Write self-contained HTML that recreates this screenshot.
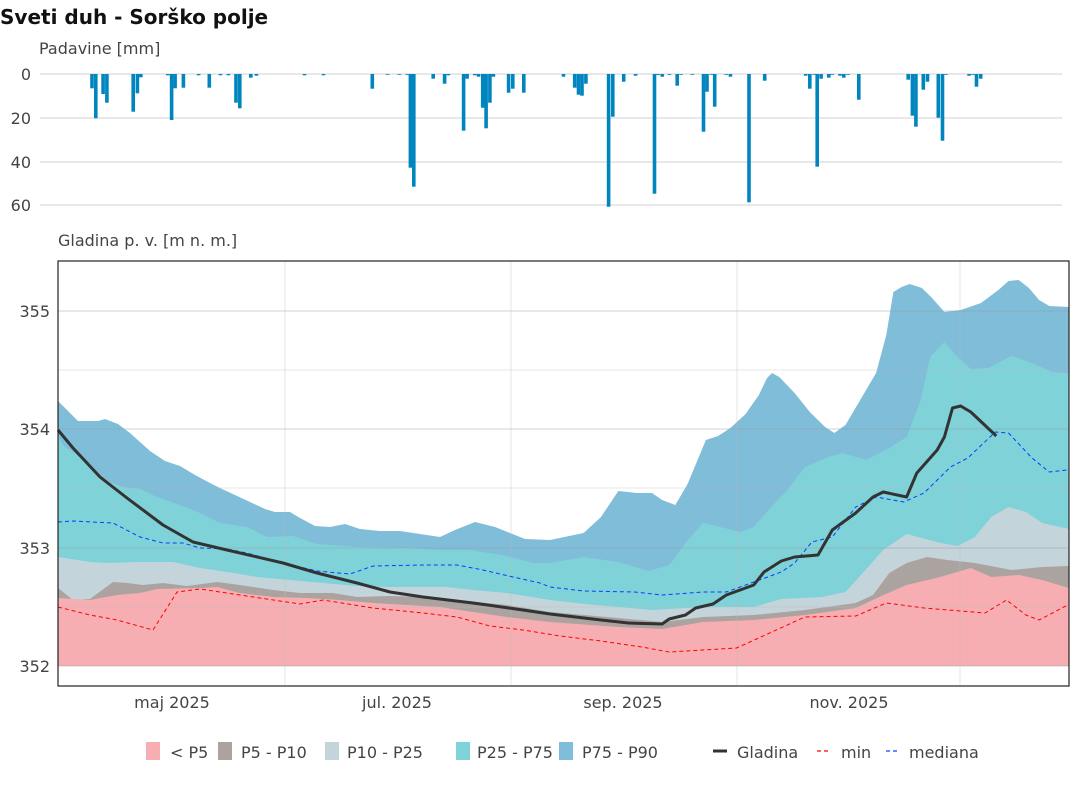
<!DOCTYPE html>
<html><head><meta charset="utf-8"><style>
body{margin:0;background:#fff;}
svg{display:block;font-family:"DejaVu Sans","Liberation Sans",sans-serif;}
</style></head><body>
<svg id="s" width="1086" height="803" viewBox="0 0 1086 803" xmlns="http://www.w3.org/2000/svg">
<text x="0" y="24" font-size="20" font-weight="bold" fill="#111">Sveti duh - Sorško polje</text>
<text x="39" y="54" font-size="16" fill="#444">Padavine [mm]</text>
<g stroke="#d0d0d0" stroke-width="1">
<line x1="40" x2="1062" y1="74" y2="74"/><line x1="40" x2="1062" y1="118" y2="118"/>
<line x1="40" x2="1062" y1="162" y2="162"/><line x1="40" x2="1062" y1="205" y2="205"/>
</g>
<g font-size="16" fill="#444" text-anchor="end">
<text x="31" y="80">0</text><text x="31" y="124">20</text><text x="31" y="168">40</text><text x="31" y="211">60</text>
</g>
<g id="bars" fill="#0085be"></g>
<text x="58" y="246" font-size="16" fill="#444">Gladina p. v. [m n. m.]</text>
<g id="main"></g>
<g font-size="16" fill="#444" text-anchor="end">
<text x="50" y="317">355</text><text x="50" y="435">354</text><text x="50" y="554">353</text><text x="50" y="672">352</text>
</g>
<g font-size="16" fill="#444" text-anchor="middle">
<text x="172" y="708">maj 2025</text><text x="397" y="708">jul. 2025</text><text x="623" y="708">sep. 2025</text><text x="849" y="708">nov. 2025</text>
</g>
<g font-size="16" fill="#444">
<rect x="146" y="742" width="14" height="18" fill="#f7aeb2"/><text x="170" y="758">&lt; P5</text>
<rect x="218" y="742" width="14" height="18" fill="#aba3a0"/><text x="241" y="758">P5 - P10</text>
<rect x="325" y="742" width="14" height="18" fill="#c4d4db"/><text x="347" y="758">P10 - P25</text>
<rect x="456" y="742" width="14" height="18" fill="#7fd3d8"/><text x="477" y="758">P25 - P75</text>
<rect x="559" y="742" width="14" height="18" fill="#7fbdd9"/><text x="582" y="758">P75 - P90</text>
<line x1="713" x2="727" y1="751" y2="751" stroke="#333" stroke-width="3"/><text x="737" y="758">Gladina</text>
<line x1="817" x2="831" y1="751" y2="751" stroke="#f00" stroke-width="1.2" stroke-dasharray="4,3"/><text x="841" y="758">min</text>
<line x1="886" x2="900" y1="751" y2="751" stroke="#0040ff" stroke-width="1.2" stroke-dasharray="4,3"/><text x="909" y="758">mediana</text>
</g>
</svg>
<script>
var NS="http://www.w3.org/2000/svg";
function el(p,t,a){var e=document.createElementNS(NS,t);for(var k in a)e.setAttribute(k,a[k]);p.appendChild(e);return e;}
var b1=[[266,265],[277,355],[298,282],[309,308],[385,335],[397,280],[407,232],[485,226],[496,360],[506,265],[530,263],[574,226],[605,263],[637,226],[660,226],[682,308],[693,325],[725,233],[741,227],[880,226],[935,226],[1076,266],[1120,224],[1154,224],[1177,224],[1186,503],[1196,560],[1252,236],[1285,251],[1296,226],[1340,392],[1350,236],[1372,226],[1383,230],[1395,323],[1405,385],[1416,308],[1426,230],[1470,278],[1482,266],[1514,278]];
var b2=[[67,230],[99,263],[110,284],[120,287],[131,251],[196,620],[208,350],[239,245],[273,227],[327,581],[337,225],[349,230],[370,224],[392,257],[403,224],[435,224],[467,395],[477,275],[489,224],[499,320],[532,224],[544,230],[597,607],[642,242],[759,227],[771,266],[783,224],[792,500],[803,236],[825,233],[835,224],[857,227],[868,233],[880,224],[911,299],[1052,239],[1064,347],[1074,380],[1095,269],[1107,245],[1138,353],[1150,422],[1160,224],[1226,227],[1237,224],[1247,260],[1259,236]];
var bars=document.getElementById("bars");
function addBars(list,off,s){list.forEach(function(b){var x=off+b[0]*s;var h=b[1]/3-74;if(h<0.8)h=0.8;el(bars,"rect",{x:(x-1.8).toFixed(1),y:74,width:3.6,height:h.toFixed(1)});});}
addBars(b1,0,0.346);addBars(b2,540,0.35);

function fx(x){return x>550?x+(x-550)*0.019:x;}
function pts(a){return a.map(function(p){return [Math.min(1069,Math.max(58,fx(p[0]))),p[1]];});}
var P90=[[58,401],[78,421],[98,421],[105,419],[118,424],[130,433],[140,442],[150,451],[165,461],[180,466],[195,475],[210,483],[222,489],[235,495],[250,502],[265,509],[275,512],[290,512],[300,518],[315,526],[330,527],[345,524],[360,529],[380,531],[400,531],[420,534],[440,537],[455,530],[475,522],[495,527],[510,533],[525,539],[550,540],[583,533],[600,517],[617,491],[635,493],[650,493],[660,500],[673,505],[685,484],[703,440],[715,436],[727,428],[742,414],[755,395],[763,378],[768,373],[775,377],[790,393],[805,412],[820,427],[829,433],[840,425],[855,399],[870,373],[880,335],[887,292],[895,287],[903,284],[915,288],[925,298],[937,312],[953,310],[973,303],[990,290],[1000,281],[1010,280],[1020,288],[1030,300],[1040,306],[1062,307]];
var P75=[[57,437],[65,447],[80,457],[103,480],[123,487],[140,489],[157,497],[180,505],[200,513],[220,523],[247,527],[267,537],[293,536],[317,544],[357,547],[407,548],[440,550],[470,550],[507,556],[533,563],[550,563],[583,557],[617,562],[647,571],[667,565],[683,543],[700,523],[717,527],[737,532],[750,527],[767,507],[783,490],[800,467],[823,457],[837,453],[860,460],[883,448],[900,437],[913,403],[923,357],[937,342],[950,357],[963,369],[980,368],[1003,356],[1023,363],[1043,372],[1062,373]];
var P25=[[57,557],[90,562],[107,563],[140,562],[173,562],[200,568],[227,572],[257,577],[290,580],[323,583],[357,586],[390,587],[423,587],[447,587],[473,590],[507,593],[550,600],[583,604],[617,607],[650,610],[683,608],[717,607],[750,607],[777,599],[817,597],[840,592],[857,573],[877,550],[900,534],[933,543],[950,546],[967,537],[983,517],[1000,507],[1017,512],[1033,523],[1062,529]];
var P10=[[57,588],[73,600],[90,599],[113,582],[127,583],[143,585],[163,583],[187,586],[217,582],[240,585],[273,590],[300,593],[333,593],[357,597],[390,596],[423,597],[457,600],[507,605],[550,612],[617,618],[660,622],[700,617],[750,615],[800,610],[850,603],[867,595],[883,573],[900,563],[920,557],[940,560],[967,563],[1003,570],[1033,567],[1062,566]];
var P5=[[57,598],[90,600],[117,595],[140,593],[157,589],[200,588],[217,587],[240,593],[273,597],[307,598],[340,600],[373,603],[407,605],[440,607],[473,612],[507,617],[550,622],[617,627],[660,629],[700,622],[750,620],[800,615],[850,608],[873,597],[900,585],[933,577],[963,568],[983,577],[1010,575],[1033,580],[1062,588]];
var GL=[[57,430],[73,448],[100,477],[127,498],[163,525],[193,542],[227,550],[283,563],[317,573],[357,583],[390,592],[423,597],[473,603],[523,610],[550,614],[600,620],[627,623],[660,624],[667,619],[683,615],[693,608],[710,604],[723,595],[750,585],[760,572],[777,561],[790,557],[813,555],[827,530],[850,513],[867,497],[877,492],[900,497],[910,473],[930,450],[937,437],[945,408],[953,406],[963,412],[988,436]];
var MED=[[57,522],[73,521],[113,523],[140,537],[163,543],[183,543],[200,548],[227,549],[247,553],[283,563],[317,571],[350,574],[373,566],[423,565],[457,565],[483,570],[513,577],[540,583],[550,587],[583,591],[633,592],[660,595],[700,592],[723,592],[750,582],[777,572],[790,563],[807,542],[827,537],[850,507],[870,497],[897,502],[917,493],[943,467],[960,458],[987,432],[1000,433],[1023,458],[1040,472],[1057,470]];
var MIN=[[57,607],[90,615],[117,620],[153,630],[177,592],[200,589],[240,595],[300,604],[323,600],[373,608],[423,613],[457,617],[490,626],[523,630],[560,636],[600,641],[640,647],[667,652],[733,648],[757,637],[800,617],[850,616],[880,603],[917,608],[977,613],[998,600],[1017,615],[1030,620],[1058,605]];
var m=document.getElementById("main");
function line(a){return a.map(function(p,i){return (i?"L":"M")+p[0].toFixed(1)+","+p[1];}).join("");}
function area(a){a=pts(a);a[0][0]=58;a[a.length-1][0]=1069;return line(a)+"L1069,666L58,666Z";}
[[P90,"#7fbdd9"],[P75,"#7fd3d8"],[P25,"#c4d4db"],[P10,"#aba3a0"],[P5,"#f7aeb2"]].forEach(function(q){el(m,"path",{d:area(q[0]),fill:q[1]});});
[311,429,548,666].forEach(function(y){el(m,"line",{x1:58,x2:1069,y1:y,y2:y,stroke:"#999","stroke-opacity":0.45,"stroke-width":1});});
[370,488,607].forEach(function(y){el(m,"line",{x1:58,x2:1069,y1:y,y2:y,stroke:"#bbb","stroke-opacity":0.35,"stroke-width":1});});
[285,511,737,960].forEach(function(x){el(m,"line",{x1:x,x2:x,y1:261,y2:685,stroke:"#bbb","stroke-opacity":0.4,"stroke-width":1});});
el(m,"path",{d:line(pts(MIN)),fill:"none",stroke:"#f00","stroke-width":1,"stroke-dasharray":"4,3"});
el(m,"path",{d:line(pts(MED)),fill:"none",stroke:"#0040ff","stroke-width":1,"stroke-dasharray":"4,3"});
el(m,"path",{d:line(pts(GL)),fill:"none",stroke:"#333","stroke-width":3,"stroke-linejoin":"round"});
el(m,"rect",{x:58,y:261,width:1011,height:425,fill:"none",stroke:"#222","stroke-width":1.2});
</script>
</body></html>
